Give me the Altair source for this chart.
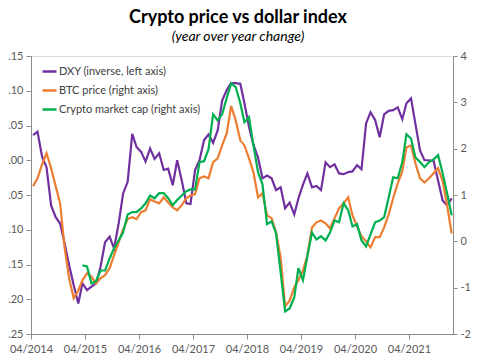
import altair as alt
import pandas as pd

# ---- data (monthly, 04/2014 .. 01/2022) ----
series_names = ["DXY (inverse, left axis)", "BTC price (right axis)", "Crypto market cap (right axis)"]
series_colors = ["#7030A0", "#ED7D31", "#00B050"]

dxy = [0.036, 0.041, 0.005, -0.010, -0.065, -0.082, -0.091, -0.120, -0.151, -0.180,
       -0.206, -0.177, -0.187, -0.182, -0.177, -0.154, -0.118, -0.110, -0.127, -0.091,
       -0.048, -0.031, 0.038, 0.019, 0.012, -0.002, 0.017, 0.002, 0.010, -0.014,
       -0.012, -0.036, 0.000, -0.029, -0.062, -0.063, -0.014, 0.000, 0.029, 0.037,
       0.025, 0.043, 0.086, 0.101, 0.111, 0.111, 0.110, 0.082, 0.048, 0.022,
       0.004, -0.026, -0.022, -0.026, -0.043, -0.039, -0.069, -0.061, -0.078, -0.055,
       -0.035, -0.019, -0.039, -0.037, -0.043, -0.003, -0.010, -0.006, -0.019, -0.020,
       -0.017, -0.016, -0.007, -0.013, 0.053, 0.069, 0.058, 0.033, 0.066, 0.071,
       0.072, 0.076, 0.059, 0.082, 0.089, 0.052, 0.014, 0.000, 0.000, -0.001,
       -0.029, -0.058, -0.065, -0.055]

btc = [1.19, 1.36, 1.66, 1.90, 1.58, 1.19, 0.82, -0.15, -0.80, -1.23,
       -1.06, -0.84, -0.69, -0.76, -0.91, -0.80, -0.73, -0.58, -0.30, -0.02,
       0.26, 0.48, 0.52, 0.48, 0.63, 0.67, 0.91, 0.86, 0.82, 0.95,
       0.84, 0.73, 0.67, 0.78, 0.93, 0.99, 1.02, 1.36, 1.40, 1.36,
       1.71, 1.79, 2.07, 2.33, 2.92, 2.61, 2.18, 2.07, 1.79, 1.49,
       0.95, 1.04, 0.56, 0.50, 0.19, -0.35, -1.40, -1.28, -0.99, -0.84,
       -0.63, -0.30, 0.30, 0.41, 0.45, 0.39, 0.28, 0.50, 0.71, 0.82,
       0.95, 0.56, 0.32, 0.11, 0.00, -0.13, 0.09, 0.09, 0.30, 0.58,
       0.93, 1.25, 1.51, 2.03, 2.07, 1.68, 1.36, 1.27, 1.36, 1.47,
       1.58, 1.30, 0.78, 0.17]

crypto_cap = [None] * 11 + [
       -0.52, -0.54, -0.91, -0.86, -0.63, -0.63, -0.37, -0.15, 0.02,
       0.19, 0.58, 0.63, 0.63, 0.71, 0.82, 0.99, 0.93, 1.04, 1.04,
       0.93, 0.78, 0.89, 0.99, 1.08, 1.12, 1.12, 1.71, 1.73, 1.99,
       2.74, 2.61, 2.74, 3.09, 3.41, 3.33, 2.98, 2.57, 2.68, 2.07,
       1.49, 1.23, 0.37, 0.43, 0.17, -0.67, -1.51, -1.45, -1.21, -0.58,
       -0.84, -0.32, 0.19, 0.04, 0.11, 0.02, 0.19, 0.45, 0.41, 0.82,
       0.67, 0.32, 0.37, 0.02, -0.11, 0.15, 0.41, 0.45, 0.52, 0.95,
       1.38, 1.36, 1.71, 2.31, 2.22, 1.81, 1.71, 1.60, 1.71, 1.77,
       1.86, 1.47, 1.04, 0.56]

dates = [(d + pd.Timedelta(days=14)).strftime("%Y-%m-%dT00:00:00")
         for d in pd.date_range("2014-04-01", periods=len(dxy), freq="MS")]

left_ticks = [-0.25, -0.20, -0.15, -0.10, -0.05, 0.00, 0.05, 0.10, 0.15]
right_ticks = [-2, -1, 0, 1, 2, 3, 4]
tick_years = [2014, 2015, 2016, 2017, 2018, 2019, 2020, 2021]

# ---- tables ----
df_left = pd.DataFrame({"date": dates, "value": dxy, "series": series_names[0]})
df_right = pd.concat([
    pd.DataFrame({"date": dates, "value": btc, "series": series_names[1]}),
    pd.DataFrame({"date": dates, "value": crypto_cap, "series": series_names[2]}).dropna(),
])

FONT = "Lato"
AXIS_COL = "#8c8c8c"
LABEL_COL = "#595959"

x_enc = alt.X(
    "date:T",
    scale=alt.Scale(domain=[alt.DateTime(year=2014, month=4, date=1),
                            alt.DateTime(year=2022, month=1, date=24)]),
    axis=alt.Axis(values=[alt.DateTime(year=y, month=4, date=1) for y in tick_years],
                  format="%m/%Y", title=None, grid=False, tickSize=5,
                  labelPadding=4, labelFontSize=11, labelColor=LABEL_COL,
                  labelOverlap=False, labelBound=False, labelFlush=False,
                  domainColor=AXIS_COL, tickColor=AXIS_COL, labelFont=FONT),
)

color_enc = alt.Color(
    "series:N",
    scale=alt.Scale(domain=series_names, range=series_colors),
    legend=alt.Legend(title=None, orient="none", legendX=10, legendY=7,
                      symbolType="stroke", symbolSize=196, symbolStrokeWidth=2.5,
                      labelFontSize=11, labelColor="#404040", labelFont=FONT,
                      rowPadding=5, labelOffset=1, padding=0),
)

left = alt.Chart(df_left).mark_line(strokeWidth=2.2).encode(
    x=x_enc,
    y=alt.Y("value:Q",
            scale=alt.Scale(domain=[-0.25, 0.15], nice=False, zero=False),
            axis=alt.Axis(orient="left", values=left_ticks, format=".2f", title=None,
                          grid=False, tickSize=5, labelPadding=3, labelFontSize=11,
                          labelColor=LABEL_COL, domainColor=AXIS_COL, tickColor=AXIS_COL,
                          labelFont=FONT)),
    color=color_enc,
)

right = alt.Chart(df_right).mark_line(strokeWidth=2.2).encode(
    x=x_enc,
    y=alt.Y("value:Q",
            scale=alt.Scale(domain=[-2, 4], nice=False, zero=False),
            axis=alt.Axis(orient="right", values=right_ticks, title=None,
                          labelExpr="toString(datum.value)",
                          grid=False, tickSize=4, labelPadding=3, labelFontSize=11,
                          labelColor=LABEL_COL, domainColor=AXIS_COL, tickColor=AXIS_COL,
                          labelFont=FONT)),
    color=color_enc,
)

chart = alt.layer(left, right).resolve_scale(y="independent").properties(
    width=422,
    height=278,
    autosize=alt.AutoSizeParams(type="none"),
    padding={"left": 23, "top": 48, "right": 19, "bottom": 24},
    title=alt.Title(text="Crypto price vs dollar index",
                    subtitle="(year over year change)",
                    font=FONT, fontSize=18, fontWeight="bold", color="#000000",
                    subtitleFont=FONT, subtitleFontSize=14, subtitleFontStyle="italic",
                    subtitleColor="#000000", anchor="middle", offset=6, subtitlePadding=3,
                    dx=-4),
).configure_view(stroke=None).configure(background="white")

chart.save("out.html", embed_options={"renderer": "svg", "actions": False})
